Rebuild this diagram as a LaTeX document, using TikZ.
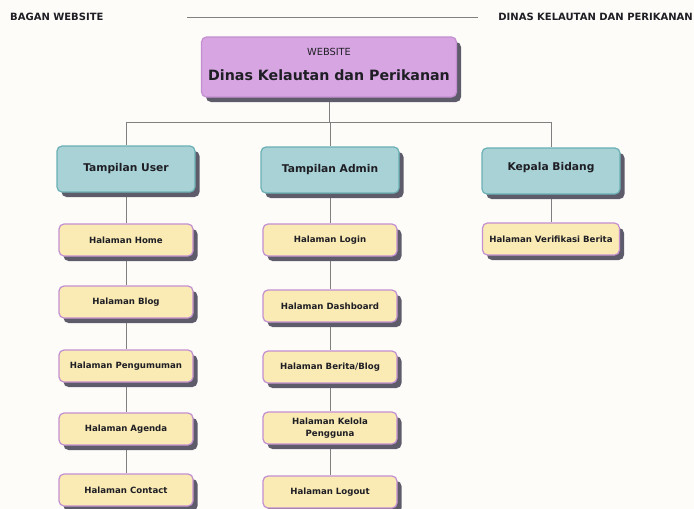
\documentclass[tikz,border=0pt]{standalone}
\usepackage{fontspec}
\setmainfont{DejaVu Sans}
\usepackage{xcolor}
\usetikzlibrary{shadows}

\definecolor{bgcolor}{HTML}{FDFCF9}
\definecolor{webfill}{HTML}{D7A6E2}
\definecolor{webline}{HTML}{C48FD0}
\definecolor{groupfill}{HTML}{A8D2D6}
\definecolor{groupline}{HTML}{6BB0B5}
\definecolor{pagefill}{HTML}{FAEBB4}
\definecolor{pageline}{HTML}{C48FD1}
\definecolor{shadowgrey}{HTML}{5E5C6B}
\definecolor{linkgrey}{HTML}{808080}
\definecolor{inkcolor}{HTML}{1E1E24}

\pgfdeclarelayer{background}
\pgfsetlayers{background,main}

\begin{document}
\begin{tikzpicture}[x=1pt,y=-1pt,
    box/.style={rounded corners=5pt, draw, line width=1.2pt, text=inkcolor,
      inner sep=2pt, align=center,
      drop shadow={shadow xshift=4.5pt, shadow yshift=-5pt, fill=shadowgrey, opacity=1}},
    webbox/.style={box, fill=webfill, draw=webline, minimum width=255pt, minimum height=60pt},
    groupbox/.style={box, fill=groupfill, draw=groupline, minimum width=138pt,
      minimum height=46pt, font=\fontsize{10.7}{12}\selectfont\bfseries},
    pagebox/.style={box, fill=pagefill, draw=pageline, minimum width=134pt,
      minimum height=32pt, font=\fontsize{8.6}{11.5}\selectfont\bfseries},
    header/.style={text=inkcolor, inner sep=0pt, font=\fontsize{10}{11}\selectfont\bfseries},
    link/.style={draw=linkgrey, line width=1pt}]
    \useasboundingbox (0,0) rectangle (694,509);

    % header
    \node[header, anchor=west] (title) at (10,17) {BAGAN WEBSITE};
    \node[header, anchor=east] (org) at (693,17) {DINAS KELAUTAN DAN PERIKANAN};
    \coordinate (hl) at (187,17);
    \coordinate (hr) at (478,17);

    % top
    \node[webbox] (web) at (329,67) {};
    \node[text=inkcolor, font=\fontsize{9.8}{11}\selectfont] (webkind) at (329,52) {WEBSITE};
    \node[text=inkcolor, font=\fontsize{14.2}{16}\selectfont\bfseries] (webname) at (329,75)
      {Dinas Kelautan dan Perikanan};

    % groups
    \node[groupbox] (user) at (126,169) {Tampilan User};
    \node[groupbox] (admin) at (330,170) {Tampilan Admin};
    \node[groupbox, text depth=10pt] (kabid) at (551,171) {Kepala Bidang};

    % user pages
    \node[pagebox] (home) at (126,240) {Halaman Home};
    \node[pagebox] (blog) at (126,302) {Halaman Blog};
    \node[pagebox] (umum) at (126,366) {Halaman Pengumuman};
    \node[pagebox] (agenda) at (126,429) {Halaman Agenda};
    \node[pagebox] (contact) at (126,490) {Halaman Contact};

    % admin pages
    \node[pagebox] (login) at (330,240) {Halaman Login};
    \node[pagebox] (dash) at (330,306) {Halaman Dashboard};
    \node[pagebox] (berita) at (330,367) {Halaman Berita/Blog};
    \node[pagebox] (kelola) at (330,428) {Halaman Kelola\\Pengguna};
    \node[pagebox] (logout) at (330,492) {Halaman Logout};

    % kepala bidang pages
    \node[pagebox, minimum width=137pt] (verif) at (551,239) {Halaman Verifikasi Berita};

    \coordinate (bl) at (126,122);
    \coordinate (br) at (551,122);

    \begin{pgfonlayer}{background}
      \fill[bgcolor] (0,0) rectangle (694,509);
      \draw[link, line width=0.8pt] (hl) -- (hr);
      \draw[link] (web) -- (web |- bl);
      \draw[link] (bl) -- (br);
      \draw[link] (bl) -- (user);
      \draw[link] (admin |- bl) -- (admin);
      \draw[link] (br) -- (kabid);
      \draw[link] (user) -- (home) -- (blog) -- (umum) -- (agenda) -- (contact);
      \draw[link] (admin) -- (login) -- (dash) -- (berita) -- (kelola) -- (logout);
      \draw[link] (kabid) -- (verif);
    \end{pgfonlayer}
  \end{tikzpicture}
\end{document}
